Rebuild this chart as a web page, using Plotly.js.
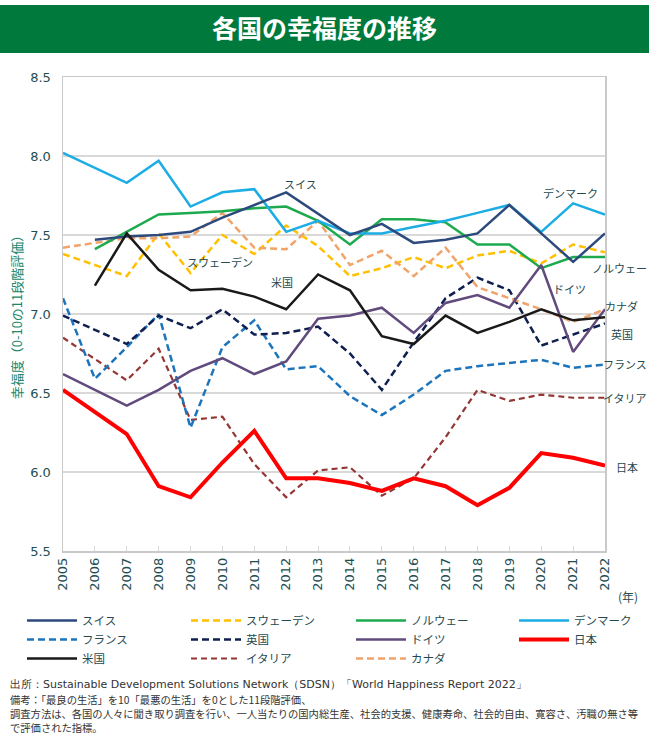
<!DOCTYPE html>
<html>
<head>
<meta charset="utf-8">
<script src="https://cdn.plot.ly/plotly-3.0.1.min.js"></script>
<style>html,body{margin:0;padding:0;background:#fff;}#chart{width:649px;height:740px;}</style>
</head>
<body>
<div id="chart"></div>
<script>
const years = [2005,2006,2007,2008,2009,2010,2011,2012,2013,2014,2015,2016,2017,2018,2019,2020,2021,2022];
const names = ["スイス","フランス","米国","スウェーデン","英国","イタリア","ノルウェー","ドイツ","カナダ","デンマーク","日本"];
const swiss   = [null,7.47,7.49,7.50,7.52,7.61,7.69,7.77,null,7.50,7.57,7.45,7.47,7.51,7.69,7.51,7.33,7.51];
const sweden  = [7.38,null,7.24,7.51,7.26,7.50,7.38,7.56,7.43,7.24,7.29,7.36,7.29,7.37,7.40,7.32,7.44,7.39];
const norway  = [null,7.41,7.52,7.63,7.64,7.65,7.67,7.68,7.59,7.44,7.60,7.60,7.58,7.44,7.44,7.29,7.36,7.36];
const denmark = [8.02,null,7.83,7.97,7.68,7.77,7.79,7.52,7.59,7.51,7.51,7.55,7.59,7.64,7.69,7.52,7.70,7.63];
const france  = [7.10,6.59,6.79,7.00,6.28,6.79,6.96,6.65,6.67,6.48,6.36,6.49,6.64,6.67,6.69,6.71,6.66,6.68];
const uk      = [6.99,null,6.81,6.99,6.91,7.03,6.87,6.88,6.92,6.75,6.52,6.82,7.10,7.23,7.15,6.80,6.87,6.94];
const germany = [6.62,null,6.42,6.52,6.64,6.72,6.62,6.70,6.97,6.99,7.04,6.88,7.07,7.12,7.04,7.31,6.76,7.03];
const japan   = [6.52,null,6.24,5.91,5.84,6.06,6.26,5.96,5.96,5.93,5.88,5.96,5.91,5.79,5.90,6.12,6.09,6.04];
const usa     = [null,7.18,7.51,7.28,7.15,7.16,7.11,7.03,7.25,7.15,6.86,6.81,6.99,6.88,6.95,7.03,6.96,6.98];
const italy   = [6.85,null,6.58,6.78,6.33,6.35,6.05,5.84,6.01,6.03,5.85,5.96,6.22,6.52,6.45,6.49,6.47,6.47];
const canada  = [7.42,null,7.48,7.48,7.49,7.64,7.42,7.41,7.59,7.31,7.40,7.24,7.42,7.17,7.10,7.03,6.95,7.03];
const yTicks = [5.5,6.0,6.5,7.0,7.5,8.0,8.5];
const yTickText = ["5.5","6.0","6.5","7.0","7.5","8.0","8.5"];

// trace order follows legend columns
const series = [swiss,france,usa,sweden,uk,italy,norway,germany,canada,denmark,japan];
const colors = ["#2E4A7D","#1C75BC","#1A1A1A","#FFC000","#0F1F50","#943634","#1DAA4F","#614B7D","#F0A36A","#1BADE4","#FF0000"];
const dashes = ["solid","7px,4px","solid","7px,4px","7px,4px","6px,4px","solid","solid","7px,4px","solid","solid"];
const widths = [2.5,2.5,2.5,2.5,2.5,2.2,2.5,2.5,2.5,2.5,4];
const legendOf = ["legend","legend","legend","legend2","legend2","legend2","legend3","legend3","legend3","legend4","legend4"];
// draw order (Japan on top etc.)
const drawOrder = [5,1,4,3,8,6,9,0,7,2,10];

// series labels: [text, pixel x (centre), pixel y]
const labelNames = ["スイス","スウェーデン","米国","デンマーク","ノルウェー","ドイツ","カナダ","英国","フランス","イタリア","日本"];
const labelPX = [300,220,282,570,619,569,621,622,625,625,627];
const labelPY = [184,262,282,193,268,289,306,334,364,398,467];

const JP = "Noto Sans CJK JP";
const traces = drawOrder.map(i=>({
  x: years, y: series[i], name: names[i], type: "scatter", mode: "lines",
  connectgaps: true, legend: legendOf[i], legendrank: i,
  line: {color: colors[i], width: widths[i], dash: dashes[i]},
  hoverinfo: "skip"
}));

const L=63, R=44, T=77, B=189, W=649, H=740;
const pw=W-L-R, ph=H-T-B;
const px = x => (x-L)/pw;
const py = y => (H-B-y)/ph;

const annotations = labelNames.map((t,i)=>({
  text: t, x: px(labelPX[i]), y: py(labelPY[i]), xref:"paper", yref:"paper", showarrow:false,
  font:{family:JP,size:11,color:"#26494F"}, xanchor:"center", yanchor:"middle"
}));
annotations.push({text:"(年)", x:px(628), y:py(596), xref:"paper", yref:"paper", showarrow:false,
  font:{family:JP,size:12,color:"#26494F"}, xanchor:"center", yanchor:"middle"});
const footer = [
  "出所：Sustainable Development Solutions Network（SDSN）「World Happiness Report 2022」",
  "備考：「最良の生活」を10「最悪の生活」を0とした11段階評価、",
  "調査方法は、各国の人々に聞き取り調査を行い、一人当たりの国内総生産、社会的支援、健康寿命、社会的自由、寛容さ、汚職の無さ等",
  "で評価された指標。"
];
const footerY = [684,699,713,727];
footer.forEach((t,i)=>annotations.push({text:t, x:px(8), y:py(footerY[i]), xref:"paper", yref:"paper",
  showarrow:false, xanchor:"left", yanchor:"middle",
  font:{family:(i===0?"DejaVu Sans":JP),size:(i===0?11:10.3),color:"#333333"}}));

const legendBase = {orientation:"v", xanchor:"left", y:py(606), yanchor:"top", itemwidth:50,
  traceorder:"normal", font:{family:JP,size:11.5,color:"#26494F"}, bgcolor:"rgba(0,0,0,0)",
  itemclick:false, itemdoubleclick:false, tracegroupgap:0};
const colStart = [28,192,357,520];

const layout = {
  width: W, height: H,
  margin: {l:L, r:R, t:T, b:B, autoexpand:false},
  paper_bgcolor:"#ffffff", plot_bgcolor:"#ffffff",
  title: {text:"<b>各国の幸福度の推移</b>", x:0.5, xref:"container", xanchor:"center",
    y:1-29/H, yref:"container", yanchor:"middle", font:{family:JP,size:25,color:"#ffffff"}},
  shapes: [{type:"rect", xref:"paper", yref:"paper", x0:px(0), x1:px(649), y0:py(53), y1:py(5),
    fillcolor:"#007A3C", line:{width:0}, layer:"below"}],
  xaxis: {type:"linear", range:[2005,2022], tickmode:"array", tickvals:years, ticktext:years.map(String),
    tickangle:-90, showgrid:false, zeroline:false, showline:true, mirror:true, linecolor:"#C9C9C9", linewidth:1.5,
    ticks:"inside", ticklen:5, tickcolor:"#D9D9D9", tickwidth:1,
    tickfont:{family:"DejaVu Sans", size:13, color:"#1D4E52"}},
  yaxis: {range:[5.5,8.5], tickmode:"array", tickvals:yTicks, ticktext:yTickText,
    showgrid:true, gridcolor:"#D9D9D9", gridwidth:1.5, zeroline:false, showline:true, mirror:true,
    linecolor:"#C9C9C9", linewidth:1.5, ticks:"", ticklabelstandoff:8,
    tickfont:{family:"DejaVu Sans", size:13, color:"#1D4E52"},
    title:{text:"幸福度（0-10の11段階評価）", font:{family:JP,size:13,color:"#21866A"}, standoff:4}},
  showlegend: true,
  legend:  Object.assign({}, legendBase, {x:px(colStart[0]-6)}),
  legend2: Object.assign({}, legendBase, {x:px(colStart[1]-6)}),
  legend3: Object.assign({}, legendBase, {x:px(colStart[2]-6)}),
  legend4: Object.assign({}, legendBase, {x:px(colStart[3]-6)}),
  annotations: annotations
};

Plotly.newPlot("chart", traces, layout, {displayModeBar:false, staticPlot:true});
</script>
</body>
</html>
